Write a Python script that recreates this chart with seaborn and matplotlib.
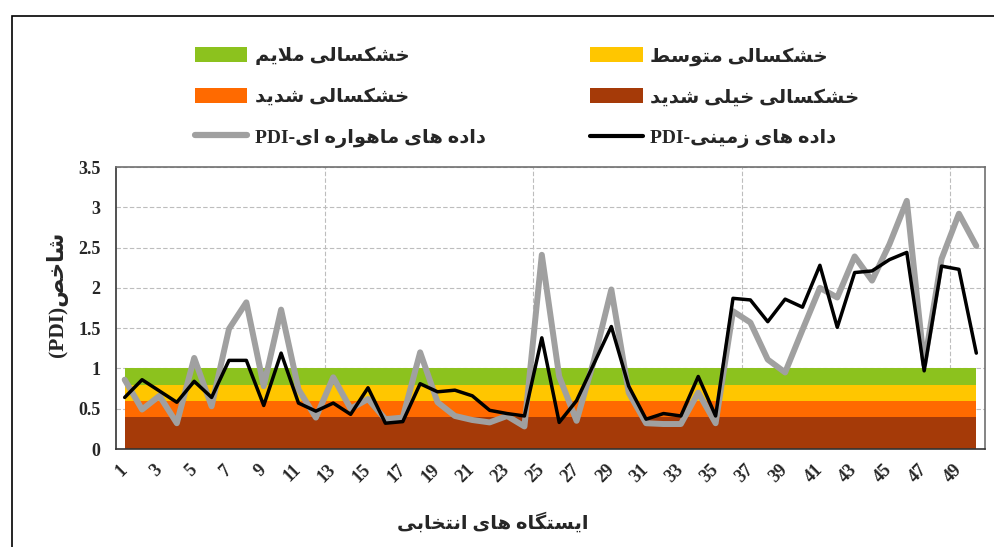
import numpy as np
import pandas as pd
import seaborn as sns
import matplotlib.pyplot as plt
from matplotlib.patches import Patch, Rectangle
from matplotlib.lines import Line2D
from matplotlib.ticker import FixedLocator

# data
stations = list(range(1, 51))
pdi_ground = [0.64, 0.86, 0.72, 0.58, 0.84, 0.64, 1.10, 1.10, 0.54, 1.19,
              0.57, 0.47, 0.57, 0.43, 0.76, 0.32, 0.34, 0.81, 0.71, 0.73,
              0.66, 0.48, 0.44, 0.41, 1.38, 0.33, 0.60, 1.06, 1.52, 0.78,
              0.37, 0.44, 0.41, 0.90, 0.41, 1.87, 1.85, 1.58, 1.86, 1.76,
              2.28, 1.51, 2.19, 2.21, 2.35, 2.44, 0.97, 2.27, 2.23, 1.19]
pdi_satellite = [0.86, 0.49, 0.66, 0.32, 1.13, 0.53, 1.49, 1.82, 0.78, 1.73,
                 0.74, 0.39, 0.89, 0.50, 0.62, 0.37, 0.39, 1.20, 0.58, 0.41,
                 0.36, 0.33, 0.41, 0.28, 2.41, 0.90, 0.35, 1.10, 1.98, 0.70,
                 0.32, 0.31, 0.31, 0.70, 0.32, 1.71, 1.57, 1.11, 0.95, 1.48,
                 2.00, 1.88, 2.39, 2.09, 2.54, 3.08, 1.05, 2.36, 2.92, 2.52]

band_lower = [0.0, 0.4, 0.6, 0.8]
band_upper = [0.4, 0.6, 0.8, 1.0]
band_labels = ['خشکسالی خیلی شدید', 'خشکسالی شدید', 'خشکسالی متوسط', 'خشکسالی ملایم']
band_colors = ['#A53A08', '#FF6A00', '#FFC600', '#8CC21E']

label_satellite = 'داده های ماهواره ای'
label_ground = 'داده های زمینی'
xlabel_text = 'ایستگاه های انتخابی'
ylabel_text = 'شاخص'
xtick_labels = [str(s) for s in stations[::2]]

# simple persian shaping (matplotlib has no bidi / joining)
FORMS = {
    'ا': ('\uFE8D', '\uFE8E', None, None),
    'ب': ('\uFE8F', '\uFE90', '\uFE91', '\uFE92'),
    'ت': ('\uFE95', '\uFE96', '\uFE97', '\uFE98'),
    'خ': ('\uFEA5', '\uFEA6', '\uFEA7', '\uFEA8'),
    'د': ('\uFEA9', '\uFEAA', None, None),
    'ر': ('\uFEAD', '\uFEAE', None, None),
    'ز': ('\uFEAF', '\uFEB0', None, None),
    'س': ('\uFEB1', '\uFEB2', '\uFEB3', '\uFEB4'),
    'ش': ('\uFEB5', '\uFEB6', '\uFEB7', '\uFEB8'),
    'ص': ('\uFEB9', '\uFEBA', '\uFEBB', '\uFEBC'),
    'ط': ('\uFEC1', '\uFEC2', '\uFEC3', '\uFEC4'),
    'ل': ('\uFEDD', '\uFEDE', '\uFEDF', '\uFEE0'),
    'م': ('\uFEE1', '\uFEE2', '\uFEE3', '\uFEE4'),
    'ن': ('\uFEE5', '\uFEE6', '\uFEE7', '\uFEE8'),
    'ه': ('\uFEE9', '\uFEEA', '\uFEEB', '\uFEEC'),
    'و': ('\uFEED', '\uFEEE', None, None),
    'ک': ('\uFB8E', '\uFB8F', '\uFB90', '\uFB91'),
    'گ': ('\uFB92', '\uFB93', '\uFB94', '\uFB95'),
    'ی': ('\uFBFC', '\uFBFD', '\uFBFE', '\uFBFF'),
    '\uFEFB': ('\uFEFB', '\uFEFC', None, None),
}


def shape(text):
    chars = list(text.replace('لا', '\uFEFB'))
    out = []
    for i, c in enumerate(chars):
        if c not in FORMS:
            out.append(c)
            continue
        prev = chars[i - 1] if i > 0 else None
        nxt = chars[i + 1] if i < len(chars) - 1 else None
        join_prev = prev in FORMS and FORMS[prev][2] is not None
        join_next = nxt in FORMS and FORMS[c][2] is not None
        iso, fin, ini, med = FORMS[c]
        if join_prev and join_next:
            out.append(med)
        elif join_prev:
            out.append(fin)
        elif join_next:
            out.append(ini)
        else:
            out.append(iso)
    return ''.join(out)[::-1]


sns.set_style('white')
fonts = ['Liberation Serif', 'DejaVu Sans']
plt.rcParams['font.family'] = fonts
plt.rcParams['font.weight'] = 'bold'

fig = plt.figure(figsize=(9.95, 5.47), dpi=100)
ax = fig.add_axes([116 / 995, 98 / 547, 869 / 995, 282 / 547])

# drought bands
for lo, hi, col in zip(band_lower, band_upper, band_colors):
    ax.fill_between([stations[0], stations[-1]], lo, hi, color=col, lw=0, zorder=1)

sns.lineplot(x=stations, y=pdi_satellite, color='#A0A0A0', lw=4.3, ax=ax, zorder=3, legend=False)
sns.lineplot(x=stations, y=pdi_ground, color='black', lw=2.5, ax=ax, zorder=4, legend=False)

ax.set_xlim(0.5, 50.5)
ax.set_ylim(0, 3.5)
ax.set_yticks(np.arange(0, 3.51, 0.5))
ax.set_yticklabels(['0', '0.5', '1', '1.5', '2', '2.5', '3', '3.5'])
ax.set_xticks(stations[::2])
ax.set_xticklabels(xtick_labels, rotation=45, ha='right', va='center', rotation_mode='anchor')
ax.xaxis.set_minor_locator(FixedLocator([12.5, 24.5, 36.5, 48.5]))
ax.tick_params(axis='x', which='major', length=0, pad=13, labelsize=13)
ax.tick_params(axis='x', which='minor', length=6, width=1, color='#555555', direction='out')
ax.tick_params(axis='y', length=7, width=1, color='#555555', direction='out', labelsize=13, pad=4)
for lab in ax.get_xticklabels() + ax.get_yticklabels():
    lab.set_fontweight('bold')
    lab.set_family(fonts)

ax.grid(axis='y', which='major', ls=(0, (4, 2)), color='#BDBDBD', lw=0.8, zorder=0)
ax.grid(axis='x', which='minor', ls=(0, (4, 2)), color='#BDBDBD', lw=0.8, zorder=0)
ax.grid(axis='x', which='major', visible=False)
ax.set_axisbelow(True)
for s in ax.spines.values():
    s.set_color('#707070')
    s.set_linewidth(1.2)
ax.spines['left'].set_color('#333333')
ax.spines['bottom'].set_color('#333333')

ax.set_xlabel('')
ax.set_ylabel('')
fig.text(493 / 995, 1 - 522 / 547, shape(xlabel_text), ha='center', va='center',
         fontsize=14, fontweight='bold', family=fonts)
fig.text(57 / 995, 1 - 294 / 547, '(PDI)' + shape(ylabel_text), ha='center', va='center',
         rotation=90, fontsize=15.5, fontweight='bold', family=fonts)

# legend, two columns as in the original
h_mild = Patch(facecolor=band_colors[3], lw=0)
h_mod = Patch(facecolor=band_colors[2], lw=0)
h_sev = Patch(facecolor=band_colors[1], lw=0)
h_vsev = Patch(facecolor=band_colors[0], lw=0)
h_sat = Line2D([], [], color='#A0A0A0', lw=4.5)
h_gr = Line2D([], [], color='black', lw=3)
leg_kw = dict(frameon=False, handlelength=2.7, handleheight=0.8, handletextpad=0.4,
              labelspacing=1.15, borderpad=0, borderaxespad=0, loc='upper left',
              prop=dict(family=fonts, weight='bold', size=14))
fig.legend([h_mild, h_sev, h_sat],
           [shape(band_labels[3]), shape(band_labels[1]), 'PDI-' + shape(label_satellite)],
           bbox_to_anchor=(195 / 995, 1 - 47 / 547), **leg_kw)
fig.legend([h_mod, h_vsev, h_gr],
           [shape(band_labels[2]), shape(band_labels[0]), 'PDI-' + shape(label_ground)],
           bbox_to_anchor=(590 / 995, 1 - 47 / 547), **leg_kw)

# outer frame (top and left edges visible in the source)
fig.patches.append(Rectangle((12 / 995, -0.1), 1.1, 1 - 16 / 547 + 0.1, transform=fig.transFigure,
                             fill=False, ec='black', lw=1.2))

fig.savefig('out.png', dpi=100)
